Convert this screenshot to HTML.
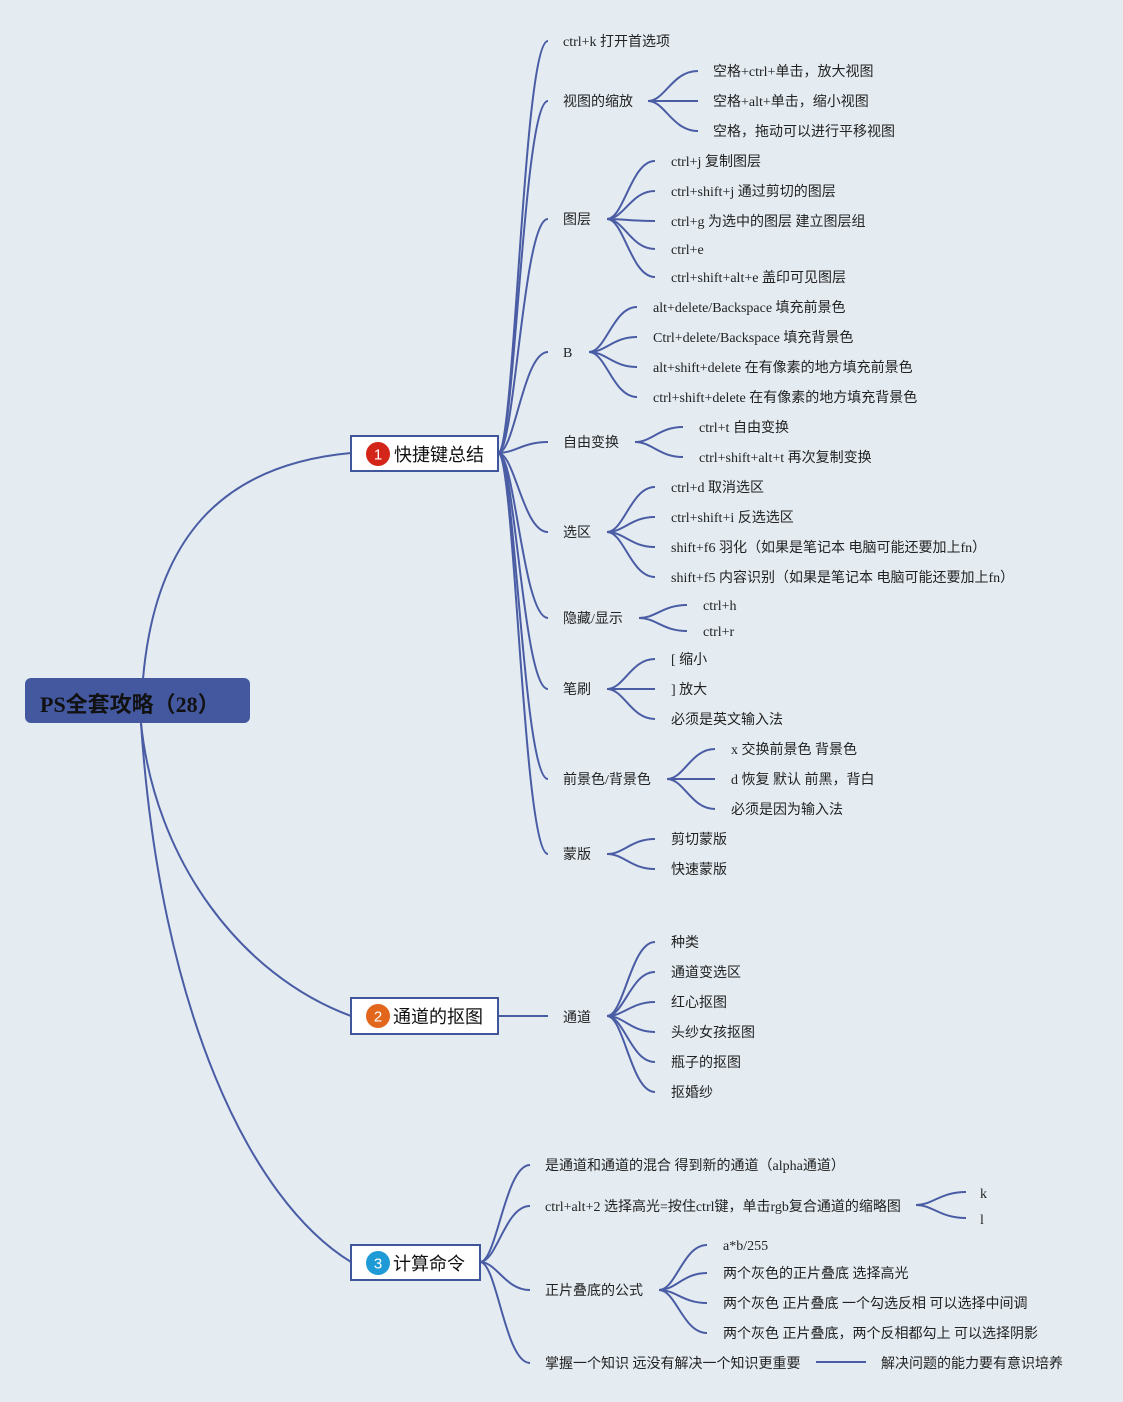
<!DOCTYPE html>
<html>
<head>
<meta charset="utf-8">
<style>
  html,body{margin:0;padding:0;background:#e4ecf2;}
  svg{display:block;}
  .t{font-family:"Liberation Serif","Noto Sans CJK SC",serif;font-size:14px;fill:#222;}
  .n{font-family:"Liberation Sans","Noto Sans CJK SC",sans-serif;font-size:18px;fill:#111;}
  .b{font-family:"Liberation Sans","Noto Sans CJK SC",sans-serif;font-size:15px;fill:#fff;}
  .r{font-family:"Liberation Serif","Noto Sans CJK SC",sans-serif;font-size:22px;font-weight:bold;fill:#111;}
  path{fill:none;stroke:#4a5ca4;stroke-width:2;}
</style>
</head>
<body>
<svg width="1123" height="1402" viewBox="0 0 1123 1402" xmlns="http://www.w3.org/2000/svg">
<rect x="0" y="0" width="1123" height="1402" fill="#e4ecf2"/>

<!-- root connectors -->
<path d="M143 679 C155 540 220 465 351 453"/>
<path d="M141 723 C155 860 240 975 351 1016"/>
<path d="M141 723 C160 1010 250 1200 351 1262"/>

<!-- root -->
<rect x="25" y="678" width="225" height="45" rx="6" fill="#4458a0"/>
<text class="r" x="40" y="712">PS全套攻略（28）</text>

<!-- node1 fan -->
<path d="M498 453 C515 453 523 41 548 41"/>
<path d="M498 453 C515 453 523 101 548 101"/>
<path d="M498 453 C515 453 523 219 548 219"/>
<path d="M498 453 C515 453 523 352 548 352"/>
<path d="M498 453 C515 453 523 442 548 442"/>
<path d="M498 453 C515 453 523 532 548 532"/>
<path d="M498 453 C515 453 523 618 548 618"/>
<path d="M498 453 C515 453 523 689 548 689"/>
<path d="M498 453 C515 453 523 779 548 779"/>
<path d="M498 453 C515 453 523 854 548 854"/>

<!-- node 1 box -->
<rect x="351" y="436" width="147" height="35" fill="#fff" stroke="#3f559c" stroke-width="2"/>
<circle cx="378" cy="454" r="12" fill="#d4251a"/>
<text class="b" x="378" y="459.5" text-anchor="middle">1</text>
<text class="n" x="394" y="461">快捷键总结</text>

<!-- level-1 labels -->
<text class="t" x="563" y="46">ctrl+k 打开首选项</text>
<text class="t" x="563" y="106">视图的缩放</text>
<text class="t" x="563" y="224">图层</text>
<text class="t" x="563" y="357">B</text>
<text class="t" x="563" y="447">自由变换</text>
<text class="t" x="563" y="537">选区</text>
<text class="t" x="563" y="623">隐藏/显示</text>
<text class="t" x="563" y="694">笔刷</text>
<text class="t" x="563" y="784">前景色/背景色</text>
<text class="t" x="563" y="859">蒙版</text>

<!-- 视图的缩放 -->
<path d="M648 101 C665 101 672 71 698 71"/>
<path d="M648 101 L698 101"/>
<path d="M648 101 C665 101 672 131 698 131"/>
<text class="t" x="713" y="76">空格+ctrl+单击，放大视图</text>
<text class="t" x="713" y="106">空格+alt+单击，缩小视图</text>
<text class="t" x="713" y="136">空格，拖动可以进行平移视图</text>

<!-- 图层 -->
<path d="M607 219 C624 219 631 161 655 161"/>
<path d="M607 219 C624 219 631 191 655 191"/>
<path d="M607 219 C624 219 631 221 655 221"/>
<path d="M607 219 C624 219 631 249 655 249"/>
<path d="M607 219 C624 219 631 277 655 277"/>
<text class="t" x="671" y="166">ctrl+j 复制图层</text>
<text class="t" x="671" y="196">ctrl+shift+j 通过剪切的图层</text>
<text class="t" x="671" y="226">ctrl+g 为选中的图层 建立图层组</text>
<text class="t" x="671" y="254">ctrl+e</text>
<text class="t" x="671" y="282">ctrl+shift+alt+e 盖印可见图层</text>

<!-- B -->
<path d="M589 352 C606 352 613 307 637 307"/>
<path d="M589 352 C606 352 613 337 637 337"/>
<path d="M589 352 C606 352 613 367 637 367"/>
<path d="M589 352 C606 352 613 397 637 397"/>
<text class="t" x="653" y="312">alt+delete/Backspace 填充前景色</text>
<text class="t" x="653" y="342">Ctrl+delete/Backspace 填充背景色</text>
<text class="t" x="653" y="372">alt+shift+delete 在有像素的地方填充前景色</text>
<text class="t" x="653" y="402">ctrl+shift+delete 在有像素的地方填充背景色</text>

<!-- 自由变换 -->
<path d="M635 442 C652 442 659 427 683 427"/>
<path d="M635 442 C652 442 659 457 683 457"/>
<text class="t" x="699" y="432">ctrl+t 自由变换</text>
<text class="t" x="699" y="462">ctrl+shift+alt+t 再次复制变换</text>

<!-- 选区 -->
<path d="M607 532 C624 532 631 487 655 487"/>
<path d="M607 532 C624 532 631 517 655 517"/>
<path d="M607 532 C624 532 631 547 655 547"/>
<path d="M607 532 C624 532 631 577 655 577"/>
<text class="t" x="671" y="492">ctrl+d 取消选区</text>
<text class="t" x="671" y="522">ctrl+shift+i 反选选区</text>
<text class="t" x="671" y="552">shift+f6 羽化（如果是笔记本 电脑可能还要加上fn）</text>
<text class="t" x="671" y="582">shift+f5 内容识别（如果是笔记本 电脑可能还要加上fn）</text>

<!-- 隐藏/显示 -->
<path d="M639 618 C656 618 663 605 687 605"/>
<path d="M639 618 C656 618 663 631 687 631"/>
<text class="t" x="703" y="610">ctrl+h</text>
<text class="t" x="703" y="636">ctrl+r</text>

<!-- 笔刷 -->
<path d="M607 689 C624 689 631 659 655 659"/>
<path d="M607 689 L655 689"/>
<path d="M607 689 C624 689 631 719 655 719"/>
<text class="t" x="671" y="664">[ 缩小</text>
<text class="t" x="671" y="694">] 放大</text>
<text class="t" x="671" y="724">必须是英文输入法</text>

<!-- 前景色/背景色 -->
<path d="M667 779 C684 779 691 749 715 749"/>
<path d="M667 779 L715 779"/>
<path d="M667 779 C684 779 691 809 715 809"/>
<text class="t" x="731" y="754">x 交换前景色 背景色</text>
<text class="t" x="731" y="784">d 恢复 默认 前黑，背白</text>
<text class="t" x="731" y="814">必须是因为输入法</text>

<!-- 蒙版 -->
<path d="M607 854 C624 854 631 839 655 839"/>
<path d="M607 854 C624 854 631 869 655 869"/>
<text class="t" x="671" y="844">剪切蒙版</text>
<text class="t" x="671" y="874">快速蒙版</text>

<!-- node 2 -->
<path d="M498 1016 L548 1016"/>
<rect x="351" y="998" width="147" height="36" fill="#fff" stroke="#3f559c" stroke-width="2"/>
<circle cx="378" cy="1016" r="12" fill="#e2661b"/>
<text class="b" x="378" y="1021.5" text-anchor="middle">2</text>
<text class="n" x="393" y="1023">通道的抠图</text>
<text class="t" x="563" y="1022">通道</text>
<path d="M607 1016 C624 1016 631 942 655 942"/>
<path d="M607 1016 C624 1016 631 972 655 972"/>
<path d="M607 1016 C624 1016 631 1002 655 1002"/>
<path d="M607 1016 C624 1016 631 1032 655 1032"/>
<path d="M607 1016 C624 1016 631 1062 655 1062"/>
<path d="M607 1016 C624 1016 631 1092 655 1092"/>
<text class="t" x="671" y="947">种类</text>
<text class="t" x="671" y="977">通道变选区</text>
<text class="t" x="671" y="1007">红心抠图</text>
<text class="t" x="671" y="1037">头纱女孩抠图</text>
<text class="t" x="671" y="1067">瓶子的抠图</text>
<text class="t" x="671" y="1097">抠婚纱</text>

<!-- node 3 -->
<path d="M480 1262 C497 1262 505 1165 530 1165"/>
<path d="M480 1262 C497 1262 505 1206 530 1206"/>
<path d="M480 1262 C497 1262 505 1290 530 1290"/>
<path d="M480 1262 C497 1262 505 1363 530 1363"/>
<rect x="351" y="1245" width="129" height="35" fill="#fff" stroke="#3f559c" stroke-width="2"/>
<circle cx="378" cy="1263" r="12" fill="#1e9ad6"/>
<text class="b" x="378" y="1268.5" text-anchor="middle">3</text>
<text class="n" x="393" y="1270">计算命令</text>

<text class="t" x="545" y="1170">是通道和通道的混合 得到新的通道（alpha通道）</text>
<text class="t" x="545" y="1211">ctrl+alt+2 选择高光=按住ctrl键，单击rgb复合通道的缩略图</text>
<path d="M916 1205 C933 1205 940 1192 966 1192"/>
<path d="M916 1205 C933 1205 940 1218 966 1218"/>
<text class="t" x="980" y="1198">k</text>
<text class="t" x="980" y="1224">l</text>

<text class="t" x="545" y="1295">正片叠底的公式</text>
<path d="M659 1290 C676 1290 683 1245 707 1245"/>
<path d="M659 1290 C676 1290 683 1273 707 1273"/>
<path d="M659 1290 C676 1290 683 1303 707 1303"/>
<path d="M659 1290 C676 1290 683 1333 707 1333"/>
<text class="t" x="723" y="1250">a*b/255</text>
<text class="t" x="723" y="1278">两个灰色的正片叠底 选择高光</text>
<text class="t" x="723" y="1308">两个灰色 正片叠底 一个勾选反相 可以选择中间调</text>
<text class="t" x="723" y="1338">两个灰色 正片叠底，两个反相都勾上 可以选择阴影</text>

<text class="t" x="545" y="1368">掌握一个知识 远没有解决一个知识更重要</text>
<path d="M816 1362 L866 1362"/>
<text class="t" x="881" y="1368">解决问题的能力要有意识培养</text>
</svg>
</body>
</html>
